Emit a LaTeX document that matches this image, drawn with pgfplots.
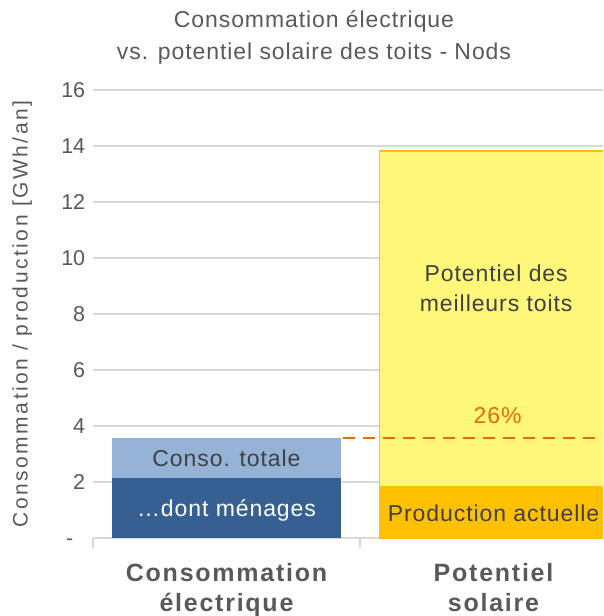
\documentclass[border=0pt]{standalone}
\usepackage{pgfplots}
\pgfplotsset{compat=1.18}
\usepackage{fontspec}
\setmainfont{Liberation Sans}
\newfontfamily\spfont[LetterSpace=4]{Liberation Sans}
\newfontfamily\ylfont[LetterSpace=12]{Liberation Sans}
\newfontfamily\catfont[LetterSpace=7]{Liberation Sans}
\definecolor{txt}{HTML}{595959}
\definecolor{dtxt}{HTML}{404040}
\definecolor{dblue}{HTML}{376092}
\definecolor{lblue}{HTML}{95B3D7}
\definecolor{yel}{HTML}{FFF779}
\definecolor{gold}{HTML}{FFC000}
\definecolor{orng}{HTML}{E46C0A}
\definecolor{gridc}{HTML}{D9D9D9}
\begin{document}
\begin{tikzpicture}
\useasboundingbox (-93pt,-78pt) rectangle (510pt,538pt);
\clip (-93pt,-78pt) rectangle (510pt,538pt);
\begin{axis}[
  at={(0,0)}, anchor=south west,
  scale only axis, width=510pt, height=448pt,
  xmin=0.5, xmax=2.41, ymin=0, ymax=16,
  axis x line*=bottom, axis y line*=left,
  y axis line style={draw=none},
  x axis line style={draw=gridc, line width=1.3pt},
  ymajorgrids, grid style={draw=gridc, line width=1.3pt},
  ytick={0,2,...,16},
  yticklabels={-\phantom{0},2,4,6,8,10,12,14,16},
  ytick style={draw=none},
  yticklabel style={font=\fontsize{21.5}{24}\selectfont, text=txt},
  /pgf/number format/assume math mode=true,
  xtick={1,2},
  xticklabels={Consommation\\électrique, Potentiel\\solaire},
  major x tick style={draw=none},
  minor xtick={0.5,1.5},
  minor x tick style={draw=gridc, line width=1.3pt},
  minor tick length=10pt,
  tick align=outside,
  xticklabel style={font=\catfont\bfseries\fontsize{25}{30}\selectfont, text=txt, align=center, yshift=-18pt},
  ylabel={Consommation / production [GWh/an]},
  ylabel style={font=\ylfont\fontsize{21}{24}\selectfont, text=txt, at={(axis description cs:-0.139,0.5)}, anchor=center},
  title={Consommation électrique\\vs. potentiel solaire des toits - Nods},
  title style={font=\spfont\fontsize{23}{32}\selectfont, text=txt, align=center, at={(axis description cs:0.4333,1)}, anchor=south, inner sep=0pt, yshift=20pt},
  ybar, bar shift=0pt, bar width=0.854,
]
\addplot[fill=lblue, draw=none] coordinates {(1,3.57)};
\addplot[fill=yel, draw=gold, line width=1.5pt] coordinates {(2,13.82)};
\addplot[fill=dblue, draw=none] coordinates {(1,2.14)};
\addplot[fill=gold, draw=none] coordinates {(2,1.86)};
\addplot[sharp plot, draw=orng, line width=1.5pt, dash pattern=on 12pt off 8pt] coordinates {(1.436,3.57) (2.41,3.57)};
\node[font=\spfont\fontsize{23}{26}\selectfont, text=dtxt] at (axis cs:1,2.855) {Conso. totale};
\node[font=\spfont\fontsize{23}{26}\selectfont, text=white] at (axis cs:1,1.0) {…dont ménages};
\node[font=\spfont\fontsize{23}{26}\selectfont, text=dtxt] at (axis cs:2,0.87) {Production actuelle};
\node[font=\spfont\fontsize{23}{30}\selectfont, text=dtxt, align=center] at (axis cs:2.01,8.93) {Potentiel des\\meilleurs toits};
\node[font=\spfont\fontsize{23}{26}\selectfont, text=orng] at (axis cs:2.015,4.36) {26\%};
\end{axis}
\end{tikzpicture}
\end{document}
